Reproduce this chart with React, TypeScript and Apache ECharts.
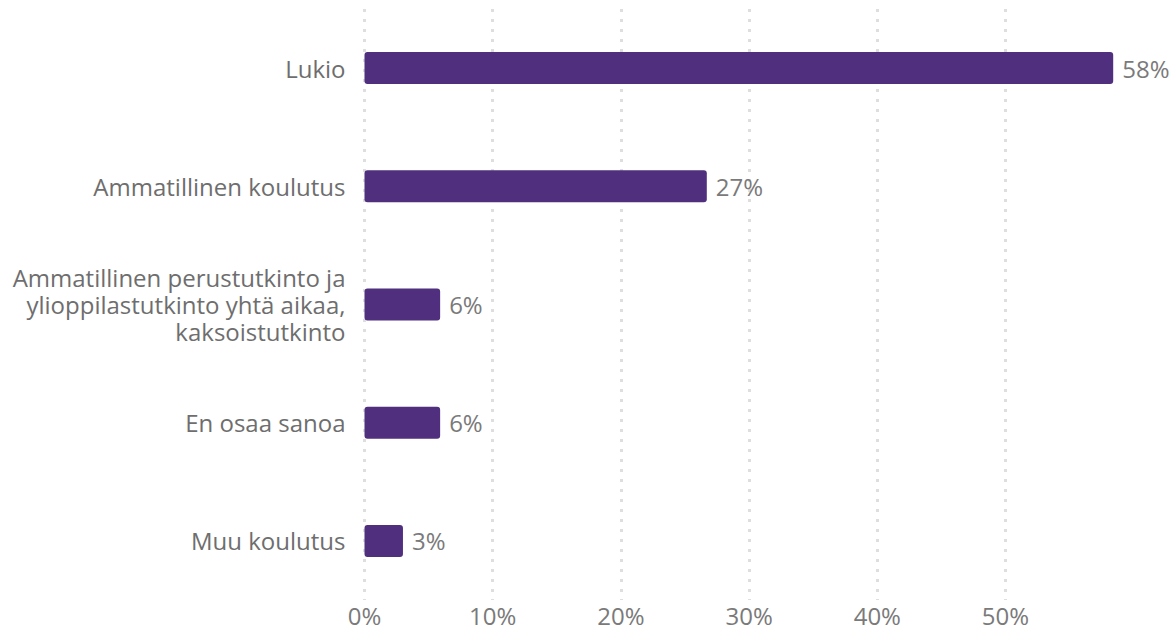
import React, { useEffect, useRef } from "react";
import * as echarts from "echarts";

const categories = [
  "Lukio",
  "Ammatillinen koulutus",
  "Ammatillinen perustutkinto ja\nylioppilastutkinto yhtä aikaa,\nkaksoistutkinto",
  "En osaa sanoa",
  "Muu koulutus",
];
const values = [58.4, 26.7, 5.9, 5.9, 3.0];

export default function App() {
  const ref = useRef<HTMLDivElement>(null);
  useEffect(() => {
    if (!ref.current) return;
    const chart = echarts.init(ref.current, null, { renderer: "svg" });
    const font = "'Open Sans', 'Noto Sans', sans-serif";
    chart.setOption({
      animation: false,
      grid: { left: 364.5, right: 59.8, top: 9, bottom: 30, containLabel: false },
      xAxis: {
        type: "value",
        min: 0,
        max: 58.4,
        interval: 10,
        axisLine: { show: false },
        axisTick: { show: false },
        splitLine: {
          show: true,
          showMaxLine: false,
          lineStyle: { color: "#dedede", width: 3, type: [3, 7] },
        },
        axisLabel: {
          showMaxLabel: false,
          formatter: (v: number) => `${v}%`,
          color: "#7a7a7a",
          fontSize: 24,
          lineHeight: 24,
          fontFamily: font,
          margin: 3,
        },
      },
      yAxis: {
        type: "category",
        data: categories,
        inverse: true,
        axisLine: { show: false },
        axisTick: { show: false },
        splitLine: { show: false },
        axisLabel: {
          color: "#6e6e6e",
          fontSize: 24,
          fontFamily: font,
          margin: 19,
          lineHeight: 27,
          align: "right",
        },
      },
      series: [
        {
          type: "bar",
          data: values,
          barWidth: 32,
          itemStyle: { color: "#4f2f7e", borderRadius: 3 },
          label: {
            show: true,
            position: "right",
            distance: 9,
            formatter: (p: any) => `${Math.round(p.value)}%`,
            color: "#7a7a7a",
            fontSize: 24,
            fontFamily: font,
          },
        },
      ],
    });
    return () => chart.dispose();
  }, []);
  return (
    <div
      ref={ref}
      style={{ position: "fixed", left: 0, top: 0, width: 1173, height: 630, background: "#fff" }}
    />
  );
}
